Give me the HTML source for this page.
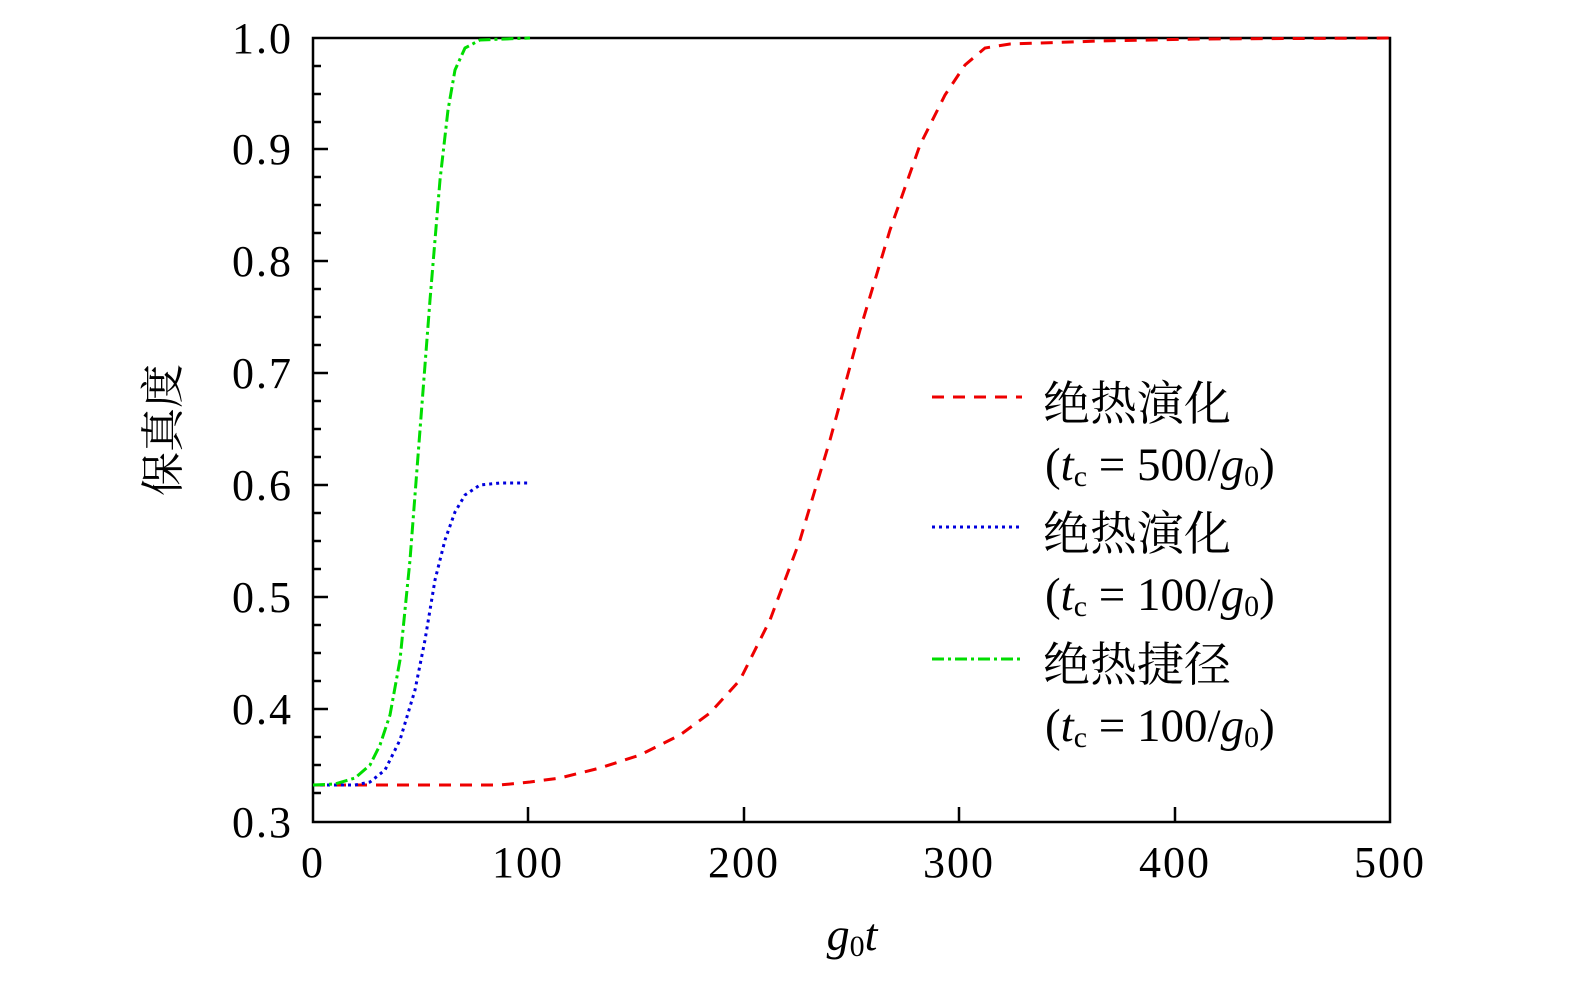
<!DOCTYPE html>
<html><head><meta charset="utf-8"><style>
body{margin:0;background:#fff}
svg text{font-family:"Liberation Serif","Noto Serif CJK SC",serif;fill:#000}
</style></head><body>
<svg width="1575" height="984" viewBox="0 0 1575 984" xmlns="http://www.w3.org/2000/svg">
<g stroke="#000" stroke-width="2.5" fill="none">
<rect x="313" y="38" width="1077" height="784"/>
<path d="M313 149h15M313 261h15M313 373h15M313 485h15M313 597h15M313 709h15
M313 66h8M313 94h8M313 122h8M313 177h8M313 205h8M313 233h8M313 289h8M313 317h8M313 345h8M313 401h8M313 429h8M313 457h8M313 513h8M313 541h8M313 569h8M313 625h8M313 653h8M313 681h8M313 737h8M313 765h8M313 793h8"/>
<path d="M528 822v-15M744 822v-15M959 822v-15M1175 822v-15"/>
</g>
<g font-size="44" text-anchor="end" letter-spacing="2">
<text x="293" y="53">1.0</text><text x="293" y="164">0.9</text><text x="293" y="276">0.8</text>
<text x="293" y="388">0.7</text><text x="293" y="500">0.6</text><text x="293" y="612">0.5</text>
<text x="293" y="724">0.4</text><text x="293" y="837">0.3</text>
</g>
<g font-size="44" text-anchor="middle" letter-spacing="2">
<text x="313" y="877">0</text><text x="528" y="877">100</text><text x="744" y="877">200</text>
<text x="959" y="877">300</text><text x="1175" y="877">400</text><text x="1390" y="877">500</text>
</g>
<text x="852" y="950" font-size="46" text-anchor="middle" font-style="italic">g<tspan font-style="normal" font-size="30" dy="6">0</tspan><tspan dy="-6">t</tspan></text>
<text transform="translate(178,430) rotate(-90)" font-size="44" text-anchor="middle">保真度</text>
<g fill="none" stroke-width="3">
<polyline stroke="#e00" stroke-dasharray="12,9" points="313,785 500,785 530,782 560,778 600,768 640,755 680,735 710,713 740,680 770,620 800,540 830,440 860,330 890,230 920,145 945,95 965,65 985,48 1010,44 1100,41 1200,39 1390,38"/>
<polyline stroke="#00d" stroke-dasharray="3,4" points="313,785 355,785 370,782 385,770 400,740 415,690 425,640 435,580 445,540 455,512 465,495 480,485 500,483 530,483"/>
<polyline stroke="#0d0" stroke-dasharray="12,4,3,4" points="313,785 335,784 355,778 370,765 380,745 390,715 400,660 410,560 420,430 430,300 440,180 448,110 455,70 465,48 480,40 530,38"/>
<line x1="932" y1="397" x2="1022" y2="397" stroke="#e00" stroke-dasharray="12,9"/>
<line x1="932" y1="527" x2="1022" y2="527" stroke="#00d" stroke-dasharray="3,4"/>
<line x1="932" y1="659" x2="1022" y2="659" stroke="#0d0" stroke-dasharray="12,4,3,4"/>
</g>
<g font-size="47">
<text x="1043" y="420">绝热演化</text>
<text x="1045" y="480">(<tspan font-style="italic">t</tspan><tspan font-size="30" dy="6">c</tspan><tspan dy="-6"> = 500/</tspan><tspan font-style="italic">g</tspan><tspan font-size="30" dy="6">0</tspan><tspan dy="-6">)</tspan></text>
<text x="1043" y="550">绝热演化</text>
<text x="1045" y="610">(<tspan font-style="italic">t</tspan><tspan font-size="30" dy="6">c</tspan><tspan dy="-6"> = 100/</tspan><tspan font-style="italic">g</tspan><tspan font-size="30" dy="6">0</tspan><tspan dy="-6">)</tspan></text>
<text x="1043" y="681">绝热捷径</text>
<text x="1045" y="741">(<tspan font-style="italic">t</tspan><tspan font-size="30" dy="6">c</tspan><tspan dy="-6"> = 100/</tspan><tspan font-style="italic">g</tspan><tspan font-size="30" dy="6">0</tspan><tspan dy="-6">)</tspan></text>
</g>
</svg>
</body></html>
